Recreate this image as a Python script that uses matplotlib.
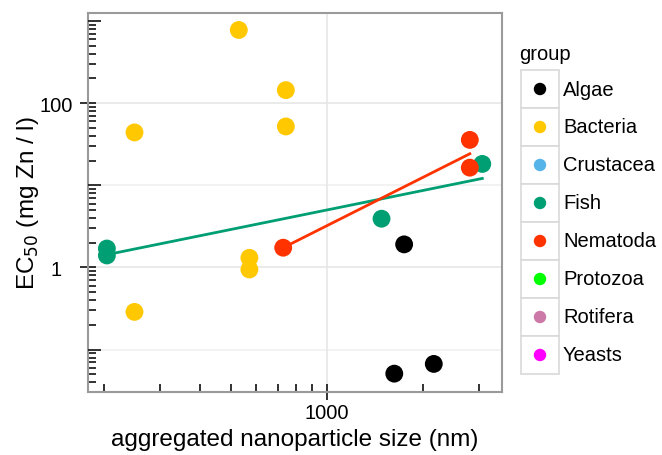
import numpy as np
import matplotlib
matplotlib.use("Agg")
import matplotlib.pyplot as plt
from matplotlib.patches import Rectangle
from matplotlib.ticker import FixedLocator, NullFormatter

plt.rcParams["font.family"] = ["Liberation Sans", "DejaVu Sans"]

# groups and colours
groups = ["Algae", "Bacteria", "Crustacea", "Fish", "Nematoda", "Protozoa", "Rotifera", "Yeasts"]
colors = ["#000000", "#FFC800", "#56B4E9", "#009E73", "#FF3300", "#00FF00", "#CC79A7", "#FF00FF"]

# aggregated size (nm) and EC50 (mg Zn / l) per group
algae_x = [1746, 1626, 2163]
algae_y = [1.91, 0.051, 0.067]
bacteria_x = [529, 743, 743, 249, 571, 571, 249]
bacteria_y = [777, 144, 52, 44, 1.31, 0.945, 0.288]
fish_x = [204, 204, 1483, 3070]
fish_y = [1.70, 1.40, 3.92, 18.2]
nema_x = [729, 2806, 2806]
nema_y = [1.74, 35.7, 16.4]

points = {
    "Algae": (algae_x, algae_y),
    "Bacteria": (bacteria_x, bacteria_y),
    "Fish": (fish_x, fish_y),
    "Nematoda": (nema_x, nema_y),
}
fitted = ["Fish", "Nematoda"]

fig = plt.figure(figsize=(6.62, 4.56), dpi=100)
ax = fig.add_axes([88 / 662, 1 - 393 / 456, 414 / 662, 379 / 456])

ax.set_xscale("log")
ax.set_yscale("log")
ax.set_xlim(178, 3540)
ax.set_ylim(0.0305, 1250)

# grid lines
ax.set_xticks([1000])
ax.set_xticklabels(["1000"])
ax.set_yticks([1, 100])
ax.set_yticklabels(["1", "100"])
ax.grid(True, which="major", color="#e6e6e6", linewidth=1.2, zorder=0)
for v in [0.1, 10]:
    ax.axhline(v, color="#f0f0f0", linewidth=1.2, zorder=0)

xminor = [200, 300, 400, 500, 600, 700, 800, 900, 2000, 3000]
yminor = []
for dec in [0.01, 0.1, 1, 10, 100, 1000]:
    for m in range(2, 10):
        v = dec * m
        if 0.0305 < v < 1250:
            yminor.append(v)
ax.xaxis.set_minor_locator(FixedLocator(xminor))
ax.yaxis.set_minor_locator(FixedLocator(yminor))
ax.xaxis.set_minor_formatter(NullFormatter())
ax.yaxis.set_minor_formatter(NullFormatter())
ax.tick_params(which="major", direction="inout", length=12, width=1.3, color="#222222",
               labelsize=14.5, pad=2)
ax.tick_params(axis="y", which="major", pad=17)
for lab in ax.get_yticklabels():
    lab.set_horizontalalignment("center")
ax.tick_params(which="minor", direction="in", length=6, width=1.3, color="#222222")

# longer inside ticks at the unlabelled decades
dax = ax.twinx()
dax.set_yscale("log")
dax.set_ylim(ax.get_ylim())
dax.yaxis.set_ticks_position("left")
dax.yaxis.set_major_locator(FixedLocator([0.1, 10, 1000]))
dax.yaxis.set_minor_locator(FixedLocator([]))
dax.yaxis.set_major_formatter(NullFormatter())
dax.tick_params(direction="in", length=9, width=1.3, color="#222222")
for s in dax.spines.values():
    s.set_visible(False)

for s in ax.spines.values():
    s.set_color("#9a9a9a")
    s.set_linewidth(1.5)

# regression lines in log-log space
for g in fitted:
    xs, ys = points[g]
    lx, ly = np.log10(xs), np.log10(ys)
    b, a = np.polyfit(lx, ly, 1)
    xx = np.array([lx.min(), lx.max()])
    ax.plot(10 ** xx, 10 ** (a + b * xx), color=colors[groups.index(g)], linewidth=2, zorder=2)

for g, (xs, ys) in points.items():
    ax.scatter(xs, ys, s=165, color=colors[groups.index(g)], edgecolors="none", zorder=3)

ax.set_xlabel("aggregated nanoparticle size (nm)", fontsize=17.5, labelpad=4)
ax.set_ylabel("EC$_{50}$ (mg Zn / l)", fontsize=17.5)
ax.yaxis.set_label_coords(-0.113, 0.5)

# legend with boxed keys
lax = fig.add_axes([0, 0, 1, 1], zorder=-1)
lax.set_xlim(0, 662)
lax.set_ylim(456, 0)
lax.axis("off")
lax.text(519, 55, "group", fontsize=14.5, va="center", ha="left")
row_h = 38
top = 71
for i, (g, c) in enumerate(zip(groups, colors)):
    y0 = top + i * row_h
    lax.add_patch(Rectangle((521, y0), 38, row_h, facecolor="white", edgecolor="#d9d9d9", linewidth=1.2))
    lax.scatter([540], [y0 + row_h / 2], s=80, color=c, edgecolors="none")
    lax.text(563, y0 + row_h / 2, g, fontsize=14.5, va="center", ha="left")

fig.savefig("out.png", dpi=100)
